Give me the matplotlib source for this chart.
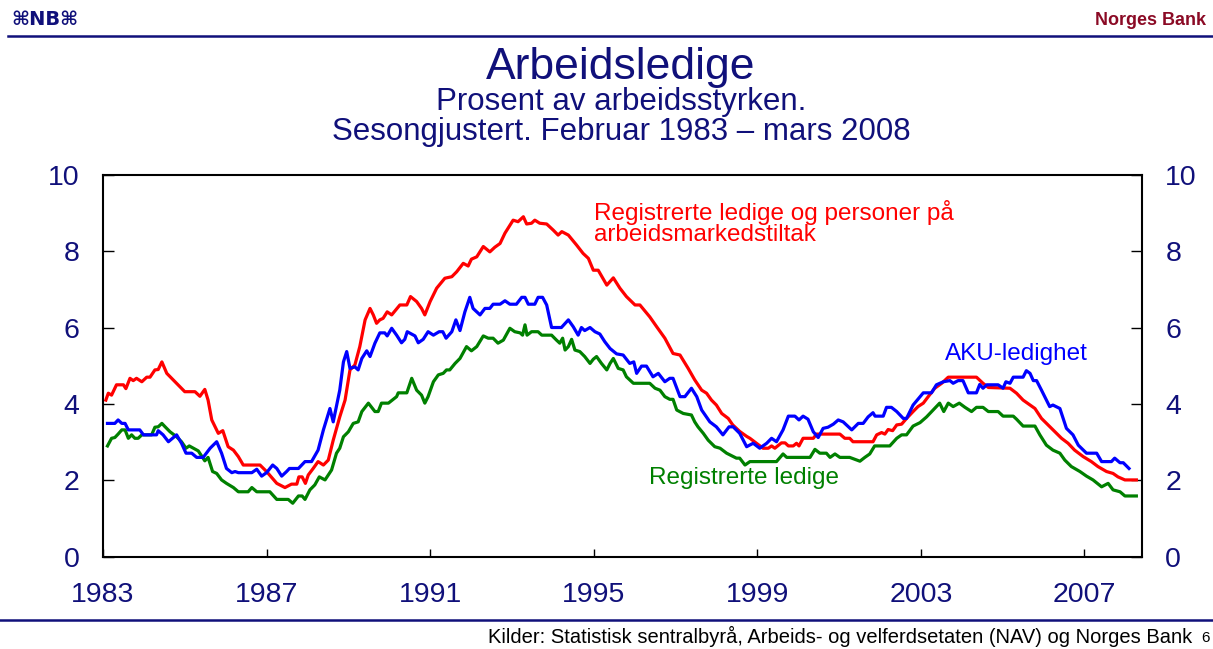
import matplotlib
matplotlib.use("Agg")
import matplotlib.pyplot as plt
from matplotlib.lines import Line2D

plt.rcParams['font.family'] = ['Liberation Sans', 'DejaVu Sans']

navy = '#10107a'

# Registrerte ledige og personer på arbeidsmarkedstiltak
red_years = [1983.07, 1983.13, 1983.21, 1983.33, 1983.50, 1983.56, 1983.66, 1983.74, 1983.82, 1983.95,
             1984.07, 1984.15, 1984.27, 1984.35, 1984.44, 1984.56, 1984.68, 1984.84, 1985.00, 1985.25,
             1985.37, 1985.49, 1985.57, 1985.66, 1985.82, 1985.93, 1986.06, 1986.19, 1986.31, 1986.43,
             1986.84, 1987.00, 1987.25, 1987.45, 1987.61, 1987.74, 1987.79, 1987.87, 1987.95, 1988.02,
             1988.14, 1988.26, 1988.39, 1988.51, 1988.63, 1988.79, 1988.92, 1989.04, 1989.16, 1989.28,
             1989.41, 1989.53, 1989.61, 1989.69, 1989.77, 1989.85, 1989.95, 1990.06, 1990.26, 1990.43,
             1990.52, 1990.67, 1990.79, 1990.87, 1991.00, 1991.16, 1991.36, 1991.53, 1991.65, 1991.81,
             1991.93, 1992.01, 1992.14, 1992.30, 1992.46, 1992.58, 1992.71, 1992.83, 1993.03, 1993.15,
             1993.28, 1993.36, 1993.48, 1993.56, 1993.68, 1993.85, 1994.01, 1994.13, 1994.22, 1994.38,
             1994.58, 1994.74, 1994.87, 1994.99, 1995.11, 1995.32, 1995.48, 1995.64, 1995.80, 1996.01,
             1996.13, 1996.37, 1996.54, 1996.74, 1996.94, 1997.11, 1997.31, 1997.47, 1997.64, 1997.76,
             1997.88, 1998.00, 1998.13, 1998.29, 1998.40, 1998.57, 1998.74, 1998.82, 1998.98, 1999.14,
             1999.27, 1999.35, 1999.43, 1999.59, 1999.68, 1999.76, 1999.88, 1999.96, 2000.02, 2000.12,
             2000.37, 2000.45, 2001.02, 2001.14, 2001.26, 2001.34, 2001.83, 2001.92, 2002.04, 2002.12,
             2002.20, 2002.31, 2002.41, 2002.53, 2002.65, 2002.81, 2002.93, 2003.06, 2003.18, 2003.34,
             2003.51, 2003.67, 2004.36, 2004.52, 2004.65, 2005.18, 2005.34, 2005.50, 2005.67, 2005.79,
             2005.95, 2006.11, 2006.23, 2006.44, 2006.60, 2006.76, 2006.97, 2007.17, 2007.33, 2007.54,
             2007.70, 2007.82, 2007.99, 2008.27]
red_vals = [4.10, 4.28, 4.23, 4.50, 4.50, 4.40, 4.67, 4.61, 4.67, 4.58,
            4.70, 4.70, 4.89, 4.90, 5.10, 4.80, 4.67, 4.50, 4.32, 4.32,
            4.20, 4.38, 4.10, 3.58, 3.23, 3.30, 2.88, 2.79, 2.62, 2.40,
            2.40, 2.23, 1.92, 1.81, 1.90, 1.90, 2.09, 2.09, 1.92, 2.14,
            2.31, 2.49, 2.40, 2.53, 3.05, 3.66, 4.10, 4.89, 5.02, 5.50,
            6.20, 6.50, 6.33, 6.11, 6.20, 6.24, 6.41, 6.33, 6.59, 6.59,
            6.81, 6.68, 6.50, 6.33, 6.68, 7.03, 7.29, 7.33, 7.46, 7.68,
            7.61, 7.79, 7.85, 8.12, 7.98, 8.10, 8.20, 8.47, 8.81, 8.77,
            8.90, 8.71, 8.73, 8.81, 8.73, 8.71, 8.55, 8.42, 8.51, 8.42,
            8.16, 7.94, 7.81, 7.50, 7.50, 7.11, 7.30, 7.03, 6.81, 6.59,
            6.59, 6.28, 6.02, 5.72, 5.32, 5.28, 4.93, 4.63, 4.36, 4.28,
            4.10, 3.97, 3.75, 3.62, 3.45, 3.28, 3.15, 3.10, 2.97, 2.84,
            2.84, 2.90, 2.84, 2.98, 2.98, 2.90, 2.90, 2.97, 2.90, 3.10,
            3.10, 3.21, 3.21, 3.10, 3.10, 3.01, 3.01, 3.19, 3.25, 3.21,
            3.33, 3.30, 3.45, 3.47, 3.62, 3.80, 3.93, 4.02, 4.19, 4.41,
            4.54, 4.70, 4.70, 4.54, 4.43, 4.41, 4.28, 4.10, 3.97, 3.88,
            3.62, 3.45, 3.32, 3.10, 2.97, 2.79, 2.62, 2.49, 2.36, 2.23,
            2.18, 2.09, 2.01, 2.01]

# AKU-ledighet
blue_years = [1983.11, 1983.29, 1983.37, 1983.46, 1983.54, 1983.62, 1983.90, 1983.99, 1984.31, 1984.35,
              1984.47, 1984.60, 1984.72, 1984.80, 1984.92, 1985.03, 1985.17, 1985.29, 1985.45, 1985.62,
              1985.78, 1985.90, 1986.02, 1986.15, 1986.23, 1986.31, 1986.64, 1986.76, 1986.88, 1987.00,
              1987.15, 1987.25, 1987.37, 1987.49, 1987.56, 1987.78, 1987.94, 1988.10, 1988.26, 1988.39,
              1988.55, 1988.63, 1988.79, 1988.88, 1988.96, 1989.04, 1989.16, 1989.24, 1989.33, 1989.45,
              1989.53, 1989.65, 1989.77, 1989.89, 1989.95, 1990.06, 1990.18, 1990.30, 1990.38, 1990.44,
              1990.63, 1990.71, 1990.83, 1990.95, 1991.08, 1991.22, 1991.31, 1991.39, 1991.53, 1991.63,
              1991.73, 1991.85, 1991.97, 1992.05, 1992.22, 1992.34, 1992.46, 1992.54, 1992.71, 1992.83,
              1992.95, 1993.11, 1993.24, 1993.32, 1993.40, 1993.56, 1993.64, 1993.75, 1993.85, 1993.97,
              1994.21, 1994.38, 1994.50, 1994.62, 1994.70, 1994.78, 1994.91, 1995.03, 1995.15, 1995.27,
              1995.40, 1995.56, 1995.72, 1995.80, 1995.88, 1995.98, 1996.05, 1996.17, 1996.29, 1996.45,
              1996.58, 1996.74, 1996.86, 1996.94, 1997.11, 1997.23, 1997.39, 1997.52, 1997.64, 1997.84,
              1998.00, 1998.16, 1998.31, 1998.41, 1998.57, 1998.74, 1998.90, 1999.06, 1999.23, 1999.35,
              1999.47, 1999.63, 1999.76, 1999.92, 2000.02, 2000.12, 2000.24, 2000.37, 2000.49, 2000.61,
              2000.73, 2000.86, 2000.98, 2001.10, 2001.31, 2001.47, 2001.59, 2001.71, 2001.83, 2001.88,
              2002.08, 2002.16, 2002.28, 2002.41, 2002.57, 2002.65, 2002.81, 2003.06, 2003.26, 2003.38,
              2003.55, 2003.71, 2003.79, 2003.91, 2004.03, 2004.16, 2004.36, 2004.44, 2004.52, 2004.61,
              2004.89, 2005.01, 2005.08, 2005.18, 2005.26, 2005.50, 2005.58, 2005.67, 2005.75, 2005.83,
              2005.95, 2006.15, 2006.23, 2006.40, 2006.56, 2006.72, 2006.85, 2007.05, 2007.30, 2007.42,
              2007.66, 2007.74, 2007.87, 2007.95, 2008.09]
blue_vals = [3.49, 3.49, 3.58, 3.49, 3.49, 3.32, 3.32, 3.19, 3.19, 3.30,
             3.19, 3.01, 3.12, 3.19, 2.97, 2.71, 2.71, 2.60, 2.60, 2.84,
             3.01, 2.71, 2.31, 2.20, 2.23, 2.20, 2.20, 2.29, 2.11, 2.20,
             2.40, 2.31, 2.11, 2.23, 2.31, 2.31, 2.49, 2.49, 2.79, 3.32,
             3.88, 3.53, 4.36, 5.10, 5.37, 4.93, 4.97, 4.89, 5.19, 5.39,
             5.24, 5.59, 5.86, 5.86, 5.78, 5.98, 5.80, 5.60, 5.69, 5.89,
             5.78, 5.60, 5.69, 5.89, 5.80, 5.89, 5.89, 5.72, 5.89, 6.20,
             5.92, 6.41, 6.79, 6.50, 6.33, 6.50, 6.50, 6.61, 6.61, 6.70,
             6.61, 6.61, 6.79, 6.79, 6.61, 6.61, 6.79, 6.79, 6.59, 6.00,
             6.00, 6.20, 6.02, 5.80, 6.00, 5.92, 6.00, 5.89, 5.83, 5.63,
             5.45, 5.31, 5.28, 5.17, 5.06, 5.10, 4.80, 4.99, 4.99, 4.71,
             4.80, 4.58, 4.67, 4.67, 4.19, 4.19, 4.41, 4.19, 3.84, 3.53,
             3.40, 3.19, 3.40, 3.40, 3.23, 2.88, 2.97, 2.84, 2.97, 3.10,
             3.01, 3.32, 3.68, 3.68, 3.58, 3.68, 3.60, 3.27, 3.12, 3.36,
             3.39, 3.47, 3.58, 3.53, 3.32, 3.49, 3.49, 3.66, 3.77, 3.68,
             3.68, 3.91, 3.91, 3.80, 3.62, 3.62, 3.97, 4.29, 4.29, 4.50,
             4.58, 4.61, 4.54, 4.61, 4.61, 4.29, 4.29, 4.51, 4.41, 4.50,
             4.50, 4.41, 4.58, 4.54, 4.70, 4.70, 4.87, 4.80, 4.61, 4.61,
             4.36, 3.93, 3.97, 3.88, 3.36, 3.19, 2.92, 2.71, 2.71, 2.49,
             2.49, 2.58, 2.46, 2.46, 2.31]

# Registrerte ledige
green_years = [1983.11, 1983.21, 1983.29, 1983.37, 1983.46, 1983.54, 1983.62, 1983.70, 1983.78, 1983.86,
               1983.95, 1984.19, 1984.27, 1984.35, 1984.44, 1984.52, 1984.64, 1984.80, 1984.92, 1985.03,
               1985.11, 1985.21, 1985.33, 1985.49, 1985.57, 1985.68, 1985.78, 1985.90, 1986.02, 1986.19,
               1986.31, 1986.55, 1986.64, 1986.76, 1987.08, 1987.25, 1987.53, 1987.64, 1987.78, 1987.87,
               1987.94, 1988.06, 1988.18, 1988.29, 1988.43, 1988.59, 1988.71, 1988.79, 1988.88, 1989.00,
               1989.12, 1989.24, 1989.33, 1989.49, 1989.65, 1989.73, 1989.81, 1989.98, 1990.18, 1990.22,
               1990.43, 1990.55, 1990.67, 1990.79, 1990.87, 1990.95, 1991.08, 1991.20, 1991.32, 1991.40,
               1991.48, 1991.61, 1991.73, 1991.89, 1992.01, 1992.14, 1992.30, 1992.42, 1992.54, 1992.66,
               1992.79, 1992.95, 1993.07, 1993.20, 1993.26, 1993.32, 1993.37, 1993.48, 1993.64, 1993.73,
               1993.97, 1994.09, 1994.17, 1994.24, 1994.30, 1994.38, 1994.46, 1994.54, 1994.66, 1994.78,
               1994.91, 1994.99, 1995.07, 1995.19, 1995.32, 1995.40, 1995.48, 1995.60, 1995.72, 1995.80,
               1995.97, 1996.37, 1996.50, 1996.62, 1996.74, 1996.86, 1996.94, 1997.03, 1997.19, 1997.39,
               1997.47, 1997.55, 1997.68, 1997.80, 1997.96, 1998.09, 1998.25, 1998.49, 1998.57, 1998.70,
               1998.82, 1999.47, 1999.63, 1999.72, 2000.29, 2000.41, 2000.53, 2000.69, 2000.78, 2000.90,
               2001.02, 2001.26, 2001.51, 2001.63, 2001.75, 2001.87, 2002.24, 2002.41, 2002.53, 2002.65,
               2002.81, 2002.98, 2003.14, 2003.30, 2003.46, 2003.56, 2003.67, 2003.79, 2003.94, 2004.08,
               2004.24, 2004.36, 2004.52, 2004.65, 2004.89, 2005.01, 2005.26, 2005.34, 2005.50, 2005.79,
               2005.91, 2006.07, 2006.23, 2006.40, 2006.52, 2006.68, 2006.89, 2007.05, 2007.21, 2007.42,
               2007.58, 2007.70, 2007.87, 2007.99, 2008.27]
green_vals = [2.90, 3.10, 3.12, 3.21, 3.32, 3.32, 3.10, 3.19, 3.10, 3.10,
              3.19, 3.19, 3.39, 3.40, 3.49, 3.40, 3.27, 3.14, 3.01, 2.84,
              2.90, 2.84, 2.77, 2.51, 2.60, 2.23, 2.18, 2.01, 1.92, 1.81,
              1.70, 1.70, 1.81, 1.70, 1.70, 1.50, 1.50, 1.40, 1.59, 1.59,
              1.50, 1.75, 1.88, 2.09, 2.01, 2.27, 2.71, 2.84, 3.14, 3.27,
              3.49, 3.53, 3.80, 4.02, 3.80, 3.80, 4.02, 4.02, 4.19, 4.29,
              4.29, 4.67, 4.36, 4.23, 4.02, 4.19, 4.58, 4.76, 4.80, 4.89,
              4.89, 5.06, 5.19, 5.50, 5.39, 5.50, 5.78, 5.72, 5.72, 5.59,
              5.67, 5.98, 5.89, 5.86, 5.80, 6.07, 5.80, 5.89, 5.89, 5.80,
              5.80, 5.67, 5.59, 5.72, 5.41, 5.50, 5.69, 5.41, 5.37, 5.24,
              5.06, 5.17, 5.24, 5.06, 4.89, 5.06, 5.19, 4.93, 4.89, 4.71,
              4.54, 4.54, 4.41, 4.36, 4.19, 4.12, 4.12, 3.84, 3.75, 3.71,
              3.53, 3.40, 3.23, 3.05, 2.88, 2.84, 2.71, 2.58, 2.58, 2.40,
              2.49, 2.49, 2.69, 2.60, 2.60, 2.81, 2.71, 2.71, 2.60, 2.69,
              2.60, 2.60, 2.50, 2.60, 2.69, 2.90, 2.90, 3.10, 3.19, 3.19,
              3.42, 3.51, 3.66, 3.84, 4.02, 3.80, 4.02, 3.93, 4.02, 3.91,
              3.80, 3.91, 3.91, 3.80, 3.80, 3.68, 3.68, 3.60, 3.42, 3.42,
              3.19, 2.92, 2.79, 2.71, 2.53, 2.36, 2.23, 2.11, 2.01, 1.83,
              1.92, 1.75, 1.70, 1.59, 1.59]

x_ticks = [1983, 1987, 1991, 1995, 1999, 2003, 2007]
y_ticks = [0, 2, 4, 6, 8, 10]

fig = plt.figure(figsize=(12.13, 6.49), dpi=100)
ax = fig.add_axes([0.0849, 0.1422, 0.8563, 0.5886])

lw = 2.3
ax.plot(green_years, green_vals, color='#008000', lw=lw)
ax.plot(red_years, red_vals, color='#ff0000', lw=lw)
ax.plot(blue_years, blue_vals, color='#0000ff', lw=lw)

ax.set_xlim(1983, 2008.4)
ax.set_ylim(0, 10)
ax.set_xticks(x_ticks)
ax.set_yticks(y_ticks)
ax.tick_params(axis='x', direction='in', length=5.5, width=1, pad=18,
               labelsize=20.5, labelcolor=navy)
ax.tick_params(axis='y', direction='in', length=8, width=1, pad=17,
               labelsize=20.5, labelcolor=navy, right=True, labelright=True)
for s in ax.spines.values():
    s.set_linewidth(1.5)

ax.text(1995.0, 8.74, 'Registrerte ledige og personer på\narbeidsmarkedstiltak',
        color='#ff0000', fontsize=17.5, va='center', ha='left', linespacing=0.95)
ax.text(2003.6, 5.3, 'AKU-ledighet', color='#0000ff', fontsize=17.5, va='center', ha='left')
ax.text(1996.35, 2.05, 'Registrerte ledige', color='#008000', fontsize=17.5, va='center', ha='left')

# titles
fig.text(0.512, 0.878, 'Arbeidsledige', color=navy, fontsize=32, ha='center', va='baseline')
fig.text(0.512, 0.831, 'Prosent av arbeidsstyrken.', color=navy, fontsize=22.5,
         ha='center', va='baseline')
fig.text(0.512, 0.785, 'Sesongjustert. Februar 1983 \u2013 mars 2008', color=navy, fontsize=22.5,
         ha='center', va='baseline')

# header and footer
fig.text(0.009, 0.970, '\u2318NB\u2318', color=navy, fontsize=14, fontweight='bold',
         ha='left', va='center', family=['DejaVu Sans'])
fig.text(0.994, 0.968, 'Norges Bank', color='#8b0a25', fontsize=13, fontweight='bold',
         ha='right', va='center')
fig.add_artist(Line2D([0.007, 1.0], [0.945, 0.945], color=navy, lw=1.8))
fig.add_artist(Line2D([0.0, 1.0], [0.045, 0.045], color=navy, lw=1.8))
fig.text(0.983, 0.003, 'Kilder: Statistisk sentralbyrå, Arbeids- og velferdsetaten (NAV) og Norges Bank',
         color='black', fontsize=14.5, ha='right', va='bottom')
fig.text(0.997, 0.006, '6', color='black', fontsize=11, ha='right', va='bottom')

fig.savefig('out.png', dpi=100)
